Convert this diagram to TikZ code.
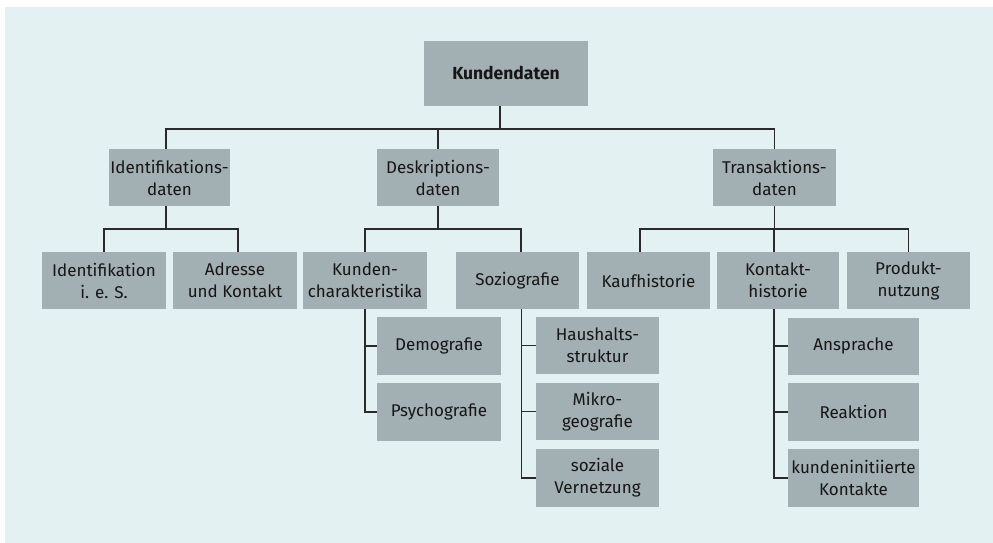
\documentclass[tikz,border=0pt]{standalone}
\usepackage{fontspec}
\setmainfont{Fira Sans}
\definecolor{bgcol}{HTML}{E3F1F2}
\definecolor{boxcol}{HTML}{A2AFB3}
\definecolor{linecol}{HTML}{2A2A2A}
\definecolor{txtcol}{HTML}{161616}
\begin{document}
\begin{tikzpicture}[x=1pt,y=-1pt,
  box/.style={fill=boxcol, draw=none, inner sep=0pt, align=center,
    text=txtcol, font=\fontsize{17}{22}\selectfont,
    minimum width=123pt, minimum height=57pt},
  link/.style={draw=linecol, line width=1.5pt}]
\useasboundingbox (0,0) rectangle (993,543);
\fill[bgcol] (5,7) rectangle (993,543);

% root
\node[box, minimum width=164pt, minimum height=65pt, font=\fontsize{17.5}{22}\selectfont\bfseries] (kd) at (506,73.5) {Kundendaten};

% second level
\node[box, minimum width=121pt] (idd) at (169.5,177.5) {Identifikations-\\daten};
\node[box, minimum width=122pt] (desd) at (438,177.5) {Deskriptions-\\daten};
\node[box] (trd) at (774.5,177.5) {Transaktions-\\daten};

% third level
\node[box, minimum width=124pt] (ies) at (104,280.5) {Identifikation\\i. e. S.};
\node[box, minimum width=124pt] (adr) at (235,280.5) {Adresse\\und Kontakt};
\node[box, minimum width=124pt] (kch) at (365,280.5) {Kunden-\\charakteristika};
\node[box] (soz) at (517.5,280.5) {Soziografie};
\node[box] (kauf) at (648.5,280.5) {Kaufhistorie};
\node[box, minimum width=122pt] (kont) at (778,280.5) {Kontakt-\\historie};
\node[box] (prod) at (908.5,280.5) {Produkt-\\nutzung};

% fourth level
\node[box, minimum width=124pt, minimum height=58pt] (demo) at (439,346) {Demografie};
\node[box, minimum width=124pt, minimum height=58pt] (psy) at (439,412) {Psychografie};
\node[box] (haus) at (597.5,345.5) {Haushalts-\\struktur};
\node[box] (mikro) at (597.5,411.5) {Mikro-\\geografie};
\node[box, minimum height=58pt] (sozv) at (597.5,478) {soziale\\Vernetzung};
\node[box, minimum width=131pt] (ansp) at (853.5,346) {Ansprache};
\node[box, minimum width=131pt, minimum height=58pt] (reak) at (853.5,412) {Reaktion};
\node[box, minimum width=131pt, minimum height=58pt] (kunk) at (853.5,478) {kundeninitiierte\\Kontakte};

% root to second level
\coordinate (kdj) at ([xshift=-6pt]kd.south);
\draw[link] (kdj) -- ++(0,23) -| ([xshift=-3.5pt]idd.north);
\draw[link] (kdj) -- ++(0,23) -| (desd.north);
\draw[link] (kdj) -- ++(0,23) -| (trd.north);

% second to third level
\coordinate (iddj) at ([xshift=-3.5pt]idd.south);
\draw[link] (iddj) -- ++(0,23) -| (ies.north);
\draw[link] (iddj) -- ++(0,23) -| ([xshift=3pt]adr.north);
\draw[link] (desd.south) -- ++(0,23) -| (kch.north);
\draw[link] (desd.south) -- ++(0,23) -| ([xshift=3.5pt]soz.north);
\draw[link] (trd.south) -- ++(0,23) -| ([xshift=-8.5pt]kauf.north);
\draw[link] (trd.south) -- ++(0,23) -| ([xshift=-4pt]kont.north);
\draw[link] (trd.south) -- ++(0,23) -| (prod.north);

% third to fourth level
\draw[link] (kch.south) |- (demo.west);
\draw[link] (kch.south) |- (psy.west);
\coordinate (sozj) at ([xshift=4pt]soz.south);
\draw[link] (sozj) |- (haus.west);
\draw[link] (sozj) |- (mikro.west);
\draw[link] (sozj) |- (sozv.west);
\coordinate (kontj) at ([xshift=-4pt]kont.south);
\draw[link] (kontj) |- (ansp.west);
\draw[link] (kontj) |- (reak.west);
\draw[link] (kontj) |- (kunk.west);
\end{tikzpicture}
\end{document}
